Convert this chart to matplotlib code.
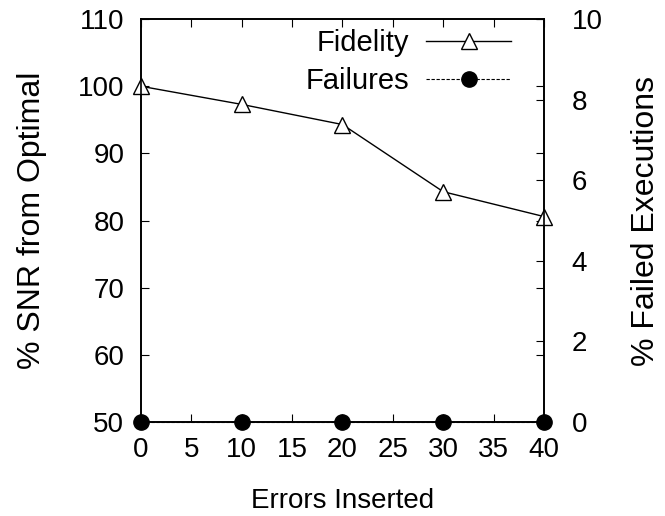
import matplotlib
matplotlib.use("Agg")
import matplotlib.pyplot as plt

errors = [0, 10, 20, 30, 40]
fidelity = [100.0, 97.3, 94.3, 84.3, 80.6]
failures = [0, 0, 0, 0, 0]

plt.rcParams.update({'font.family': 'Liberation Sans', 'font.size': 20,
                     'axes.linewidth': 1.2})

fig = plt.figure(figsize=(6.65, 5.16), dpi=100)
ax1 = fig.add_axes([0.212, 0.182, 0.606, 0.781])
ax2 = ax1.twinx()

# fidelity on left axis, failures on right axis
l1, = ax1.plot(errors, fidelity, 'k-', marker='^', markersize=11, markerfacecolor='white',
               markeredgecolor='black', markeredgewidth=1.0, linewidth=1.0, label='Fidelity',
               clip_on=False, zorder=5)
l2, = ax2.plot(errors, failures, 'k--', marker='o', markersize=11, markerfacecolor='black',
               linewidth=0.8, dashes=(3, 1.5), label='Failures', clip_on=False, zorder=5)

ax1.set_xlim(0, 40)
ax1.set_ylim(50, 110)
ax2.set_ylim(0, 10)
ax1.set_xticks(range(0, 41, 5))
ax1.set_yticks(range(50, 111, 10))
ax2.set_yticks(range(0, 11, 2))

ax1.tick_params(direction='in', length=6, top=True, right=True, labelsize=20)
ax1.tick_params(axis='x', pad=11)
ax1.tick_params(axis='y', pad=12)
ax2.tick_params(direction='in', length=6, pad=20, labelsize=20)

ax1.set_xlabel('Errors Inserted', fontsize=20, labelpad=18)
ax1.set_ylabel('% SNR from Optimal', fontsize=23, labelpad=22)
ax2.set_ylabel('% Failed Executions', fontsize=23, labelpad=20)

ax1.legend([l1, l2], ['Fidelity', 'Failures'], loc='upper right', frameon=False,
           markerfirst=False, handlelength=2.9, borderaxespad=0, borderpad=0,
           labelspacing=0.35, handletextpad=0.6, fontsize=21,
           bbox_to_anchor=(0.918, 0.975))

fig.savefig('out.png', dpi=100)
